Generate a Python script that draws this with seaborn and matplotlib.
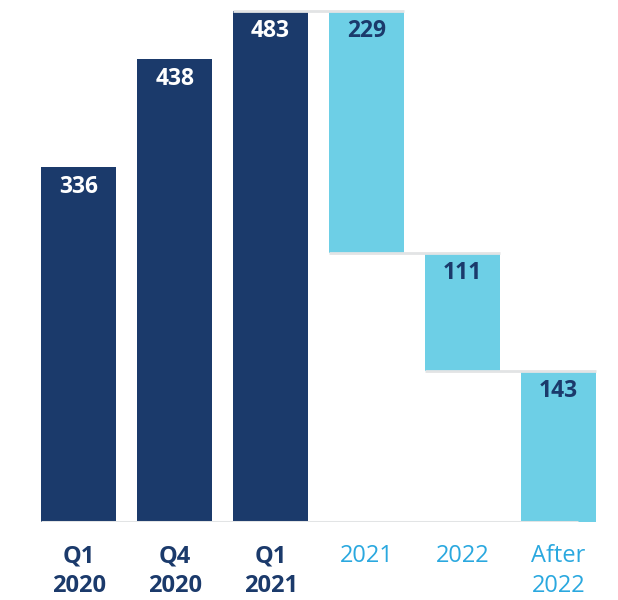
import matplotlib
matplotlib.use("Agg")
import matplotlib.pyplot as plt
import seaborn as sns

categories = ["Q1\n2020", "Q4\n2020", "Q1\n2021", "2021", "2022", "After\n2022"]
values = [336, 438, 483, 229, 111, 143]
bottoms = [0, 0, 0, 254, 143, 0]
kinds = ["total", "total", "total", "step", "step", "step"]

sns.set_theme(style="white")
plt.rcParams['font.family'] = ['Open Sans', 'DejaVu Sans']

NAVY = "#1b3a6b"
LIGHT = "#6dcfe6"
LABEL_LIGHT = "#2aa8df"
GREY = "#e2e4e5"

fig = plt.figure(figsize=(6.18, 6.0), dpi=100)
ax = fig.add_axes([0, 78 / 600, 1, 522 / 600])
W = 0.78
sns.barplot(x=categories, y=values, bottom=bottoms, order=categories, width=W,
            color=NAVY, saturation=1, ax=ax, linewidth=0, errorbar=None)
for p, k in zip(ax.patches, kinds):
    p.set_facecolor(NAVY if k == "total" else LIGHT)

# connectors
for i in range(len(values)):
    if kinds[i] == "step":
        lvl = bottoms[i] + values[i]
        ax.hlines(lvl, i - 1 - W / 2, i + W / 2, color=GREY, lw=2, zorder=3)
ax.hlines(0, -W / 2, len(values) - 1 + 0.2, color=GREY, lw=2.2, zorder=3)

# value labels
for i, (v, b, k) in enumerate(zip(values, bottoms, kinds)):
    ax.annotate(str(v), (i, b + v), xytext=(0, -14.5), textcoords="offset points",
                ha="center", va="center", fontsize=16.5, fontweight="bold",
                color="white" if k == "total" else NAVY, zorder=4)

ax.set_xlim(-0.82, 5.62)
ax.set_ylim(0, 493.4)
ax.set_xticks(range(len(categories)))
ax.set_xticklabels(categories)
ax.set_yticks([])
ax.tick_params(axis="x", length=0, pad=16)
for lab, k in zip(ax.get_xticklabels(), kinds):
    lab.set_fontsize(17)
    lab.set_linespacing(1.3)
    if k == "total":
        lab.set_color(NAVY)
        lab.set_fontweight("bold")
    else:
        lab.set_color(LABEL_LIGHT)
        lab.set_fontweight("normal")
ax.set_xlabel("")
ax.set_ylabel("")
for s in ax.spines.values():
    s.set_visible(False)

fig.savefig("out.png", dpi=100, facecolor="white")
